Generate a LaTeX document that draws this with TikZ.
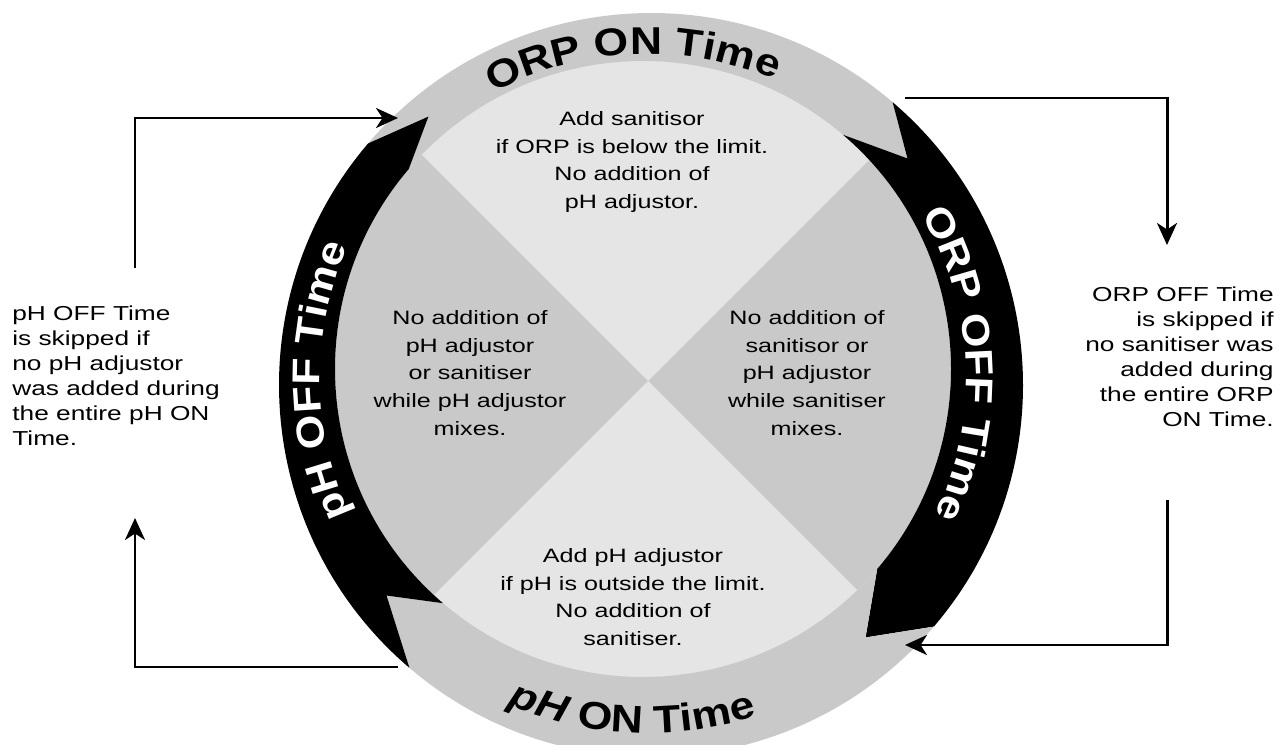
\documentclass[tikz,border=0pt]{standalone}
\usepackage{fontspec}
\setmainfont{Liberation Sans}[FakeStretch=1.3]
\newfontfamily\bandfont{Liberation Sans}[FakeStretch=1.15]
\usetikzlibrary{arrows.meta,calc,decorations.text}
\definecolor{ringgrey}{gray}{0.79}
\definecolor{quadlight}{gray}{0.90}
\newcommand\bandfmt{\bandfont\bfseries\fontsize{22}{26}\selectfont}
\tikzset{
  quadtxt/.style={align=center,inner sep=0pt,font=\fontsize{11}{15.8}\selectfont},
  note/.style={inner sep=0pt,font=\fontsize{11.5}{14.2}\selectfont},
  conn/.style={line width=1.7pt,-{Stealth[length=4.4mm,width=4mm,inset=1.3mm]}},
  bandlbl/.style={decorate,decoration={text along path,text align=center}},
}

\begin{document}
\begin{tikzpicture}[x=0.2mm,y=0.2mm]
  \useasboundingbox (0,0) rectangle (1288,744);
  \clip (0,0) rectangle (1288,744);
  % centres: outer rim, inner disc, arrow tips, labels, quadrant cross
  \coordinate (Co) at (651,359);
  \coordinate (Ci) at (643,375);
  \coordinate (Cm) at (647,367);
  \coordinate (Ct) at (648,366);
  \coordinate (X) at (648,363);
  % inner disc: dark left/right, light top/bottom
  \fill[ringgrey] (Ci) circle[radius=308];
  \begin{scope}
    \clip (Ci) circle[radius=308];
    \fill[quadlight] (X) -- ++(-400,400) -- ++(800,0) -- cycle;
    \fill[quadlight] (X) -- ++(-400,-400) -- ++(800,0) -- cycle;
  \end{scope}
  % four chevron arcs round the ring, clockwise
  \foreach \st/\col in {139.5/ringgrey,49.5/black,-40.5/ringgrey,-130.5/black}{
    \pgfmathsetmacro\en{\st-90}
    \fill[\col] ($(Co)+(\st:372)$) arc[start angle=\st,end angle=\en,radius=372]
      -- ($(Cm)+(\en-9.5:340)$) -- ($(Ci)+(\en:308)$)
      arc[start angle=\en,end angle=\st,radius=308]
      -- ($(Cm)+(\st-9.5:340)$) -- cycle;
  }
  % labels along the ring
  \path[bandlbl,decoration={text={|\bandfmt|ORP ON Time}}]
    ($(Ct)+(127.7:324)$) arc[start angle=127.7,end angle=57.7,radius=324];
  \path[bandlbl,decoration={text color=white,text={|\bandfmt|ORP OFF Time}}]
    ($(Ct)+(37.7:318)$) arc[start angle=37.7,end angle=-32.3,radius=318];
  \path[bandlbl,decoration={text={|\bandfmt\itshape|pH|\bandfmt\upshape| ON Time}}]
    ($(Ct)+(-127.7:355)$) arc[start angle=-127.7,end angle=-57.7,radius=355];
  \path[bandlbl,decoration={text color=white,text={|\bandfmt|pH OFF Time}}]
    ($(Ct)+(215.5:328)$) arc[start angle=215.5,end angle=145.5,radius=328];

  % what happens in each quarter
  \node[quadtxt] (addorp) at (632,582) {Add sanitisor\\if ORP is below the limit.\\No addition of\\pH adjustor.};
  \node[quadtxt] (addph) at (633,147) {Add pH adjustor\\if pH is outside the limit.\\No addition of\\sanitiser.};
  \node[quadtxt] (mixph) at (470,371) {No addition of\\pH adjustor\\or sanitiser\\while pH adjustor\\mixes.};
  \node[quadtxt] (mixorp) at (807,371) {No addition of\\sanitisor or\\pH adjustor\\while sanitiser\\mixes.};

  % notes on the skipped OFF times
  \node[note,anchor=north west,align=left] (phoffnote) at (12,438)
    {pH OFF Time\\is skipped if\\no pH adjustor\\was added during\\the entire pH ON\\Time.};
  \node[note,anchor=north east,align=right] (orpoffnote) at (1274,457)
    {ORP OFF Time\\is skipped if\\no sanitiser was\\added during\\the entire ORP\\ON Time.};

  % skip loops
  \coordinate (tlA) at (135,476);
  \coordinate (tlB) at (398,626);
  \draw[conn] (tlA) |- (tlB);
  \coordinate (blA) at (398,77);
  \coordinate (blB) at (135,226);
  \draw[conn] (blA) -| (blB);
  \coordinate (trA) at (905,646);
  \coordinate (trB) at (1167,499);
  \draw[conn] (trA) -| (trB);
  \coordinate (brA) at (1167,244);
  \coordinate (brB) at (905,99);
  \draw[conn] (brA) |- (brB);
\end{tikzpicture}
\end{document}
